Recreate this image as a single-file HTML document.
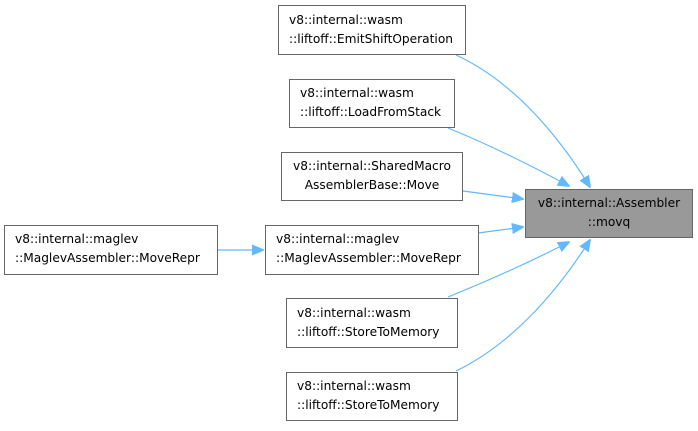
<!DOCTYPE html><html><head><style>
body{margin:0;background:#fff;width:698px;height:426px;overflow:hidden}
svg text{font-family:"DejaVu Sans","Liberation Sans",sans-serif;font-size:12.2px;fill:#000}
</style></head><body>
<svg width="698" height="426" xmlns="http://www.w3.org/2000/svg">
<defs><marker id="a" markerWidth="12" markerHeight="12" refX="11" refY="6" orient="auto" markerUnits="userSpaceOnUse"><path d="M0,1L12,6L0,11z" fill="#63b8ff" stroke="#63b8ff"/></marker></defs>
<g fill="none" stroke="#63b8ff" stroke-width="1.2" marker-end="url(#a)">
<path d="M456,55 C510,80 555,130 590,187"/>
<path d="M448,128 C490,145 530,165 569,186"/>
<path d="M463,191 L523,199"/>
<path d="M478,233 L523,227"/>
<path d="M448,297 C490,280 530,262 569,242"/>
<path d="M456,371 C510,345 555,295 590,240"/>
<path d="M217,250 L263,250"/>
</g>
<g fill="#fff" stroke="#666" stroke-width="1">
<rect x="278.5" y="5.5" width="187" height="49"/>
<rect x="289.5" y="79.5" width="165" height="48"/>
<rect x="281.5" y="152.5" width="181" height="48"/>
<rect x="265.5" y="225.5" width="213" height="49"/>
<rect x="286.5" y="298.5" width="171" height="49"/>
<rect x="286.5" y="372.5" width="171" height="48"/>
<rect x="4.5" y="225.5" width="213" height="49"/>
<rect x="525.5" y="189.5" width="167" height="48" fill="#999"/>
</g>
<text x="289" y="24">v8::internal::wasm</text><text x="289" y="43">::liftoff::EmitShiftOperation</text>
<text x="300" y="97">v8::internal::wasm</text><text x="300" y="116">::liftoff::LoadFromStack</text>
<text x="372" y="170" text-anchor="middle">v8::internal::SharedMacro</text><text x="372" y="189" text-anchor="middle">AssemblerBase::Move</text>
<text x="276" y="243">v8::internal::maglev</text><text x="276" y="262">::MaglevAssembler::MoveRepr</text>
<text x="297" y="317">v8::internal::wasm</text><text x="297" y="336">::liftoff::StoreToMemory</text>
<text x="297" y="390">v8::internal::wasm</text><text x="297" y="409">::liftoff::StoreToMemory</text>
<text x="15" y="243">v8::internal::maglev</text><text x="15" y="262">::MaglevAssembler::MoveRepr</text>
<text x="609" y="207" text-anchor="middle">v8::internal::Assembler</text><text x="609" y="226" text-anchor="middle">::movq</text>
</svg></body></html>
